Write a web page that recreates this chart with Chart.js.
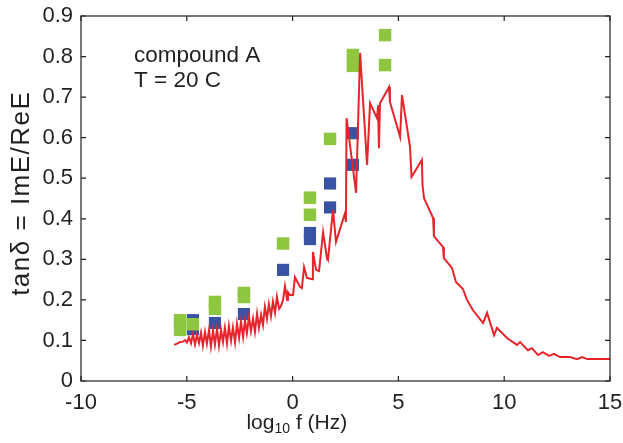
<!DOCTYPE html>
<html><head><meta charset="utf-8">
<script src="https://cdn.jsdelivr.net/npm/chart.js@4/dist/chart.umd.min.js"></script>
<style>html,body{margin:0;padding:0;background:#fff}#wrap{width:623px;height:443px}</style>
</head><body><div id="wrap"><canvas id="c" width="623" height="443"></canvas></div>
<script>
const xTicks = [-10, -5, 0, 5, 10, 15];
const yTicks = [0, 0.1, 0.2, 0.3, 0.4, 0.5, 0.6, 0.7, 0.8, 0.9];
const yTickLabels = ['0', '0.1', '0.2', '0.3', '0.4', '0.5', '0.6', '0.7', '0.8', '0.9'];
const xTitleMain = 'log';
const xTitleSub = '10';
const xTitleRest = ' f (Hz)';
const yTitle = 'tan\u03b4 = ImE/ReE';
const noteLines = ['compound A', 'T = 20 C'];

// red curve
const lineX = [-5.60,-5.46,-5.32,-5.18,-5.09,-4.99,-4.90,-4.80,-4.71,-4.61,-4.52,-4.42,-4.33,-4.24,-4.14,-4.05,-3.95,-3.86,-3.76,-3.67,-3.57,-3.48,-3.38,-3.29,-3.20,-3.10,-3.01,-2.91,-2.82,-2.72,-2.63,-2.53,-2.44,-2.34,-2.25,-2.16,-2.06,-1.97,-1.87,-1.78,-1.68,-1.59,-1.49,-1.40,-1.31,-1.21,-1.12,-1.02,-0.93,-0.83,-0.74,-0.64,-0.55,-0.45,-0.36,-0.26,-0.22,-0.12,0.02,0.11,0.35,0.44,0.54,0.68,0.92,0.96,1.11,1.25,1.44,1.63,1.67,1.91,2.05,2.48,2.52,2.55,3.00,3.19,3.52,3.66,3.99,4.04,4.08,4.13,4.56,4.60,5.08,5.17,5.55,5.62,6.11,6.14,6.21,6.64,6.68,7.11,7.15,7.53,7.72,8.05,8.24,8.52,9.00,9.19,9.52,9.66,10.13,10.61,10.75,11.12,11.31,11.60,11.83,12.12,12.35,12.64,13.11,13.44,13.68,13.92,15.00];
const lineY = [0.089,0.092,0.096,0.097,0.101,0.095,0.108,0.093,0.115,0.090,0.114,0.094,0.119,0.087,0.121,0.092,0.126,0.085,0.124,0.090,0.129,0.087,0.125,0.096,0.131,0.092,0.136,0.099,0.132,0.095,0.141,0.106,0.146,0.108,0.149,0.118,0.158,0.123,0.154,0.121,0.166,0.131,0.163,0.138,0.183,0.153,0.190,0.160,0.196,0.168,0.208,0.178,0.185,0.200,0.234,0.200,0.219,0.212,0.212,0.256,0.232,0.229,0.281,0.254,0.251,0.318,0.274,0.271,0.367,0.301,0.298,0.422,0.343,0.414,0.392,0.648,0.464,0.809,0.533,0.685,0.648,0.680,0.574,0.685,0.725,0.688,0.602,0.705,0.577,0.503,0.545,0.483,0.451,0.402,0.357,0.330,0.303,0.279,0.244,0.227,0.200,0.175,0.143,0.168,0.113,0.131,0.106,0.089,0.096,0.076,0.081,0.064,0.071,0.062,0.067,0.059,0.059,0.054,0.059,0.054,0.054];

// blue squares
const blueX = [-4.71,-4.71,-3.67,-2.30,-0.45,0.82,0.82,1.77,1.77,2.85,2.85];
const blueY = [0.150,0.128,0.143,0.165,0.274,0.365,0.350,0.487,0.428,0.611,0.533];

// green squares
const greenX = [-5.32,-5.32,-4.71,-3.67,-3.67,-2.30,-2.30,-0.45,0.82,0.82,1.77,2.85,2.85,4.37,4.37];
const greenY = [0.150,0.126,0.140,0.195,0.178,0.217,0.207,0.339,0.452,0.410,0.597,0.804,0.777,0.853,0.779];

const pts = (xs, ys) => xs.map((x, i) => ({x: x, y: ys[i]}));
const INK = '#231f20';
const FONT = 'Liberation Sans, Arial, sans-serif';

const framePlugin = {
  id: 'frame',
  afterDraw(chart) {
    const {ctx, chartArea: {left, right, top, bottom}, scales: {x, y}} = chart;
    ctx.save();
    ctx.strokeStyle = INK;
    ctx.lineWidth = 1.2;
    ctx.beginPath();
    xTicks.forEach(v => {
      const px = x.getPixelForValue(v);
      ctx.moveTo(px, bottom); ctx.lineTo(px, bottom - 5);
      ctx.moveTo(px, top); ctx.lineTo(px, top + 5);
    });
    yTicks.forEach(v => {
      const py = y.getPixelForValue(v);
      ctx.moveTo(left, py); ctx.lineTo(left + 5, py);
      ctx.moveTo(right, py); ctx.lineTo(right - 5, py);
    });
    ctx.stroke();
    ctx.strokeRect(left, top, right - left, bottom - top);

    ctx.fillStyle = INK;
    // y title (rotated)
    ctx.save();
    ctx.translate(22, y.getPixelForValue(0.463));
    ctx.rotate(-Math.PI / 2);
    ctx.font = '26px ' + FONT;
    if ('letterSpacing' in ctx) ctx.letterSpacing = '1.5px';
    ctx.textAlign = 'center';
    ctx.textBaseline = 'middle';
    ctx.fillText(yTitle, 0, 0);
    ctx.restore();

    // x title with subscript
    ctx.textBaseline = 'alphabetic';
    ctx.font = '21px ' + FONT;
    const w1 = ctx.measureText(xTitleMain).width;
    const w3 = ctx.measureText(xTitleRest).width;
    ctx.font = '14px ' + FONT;
    const w2 = ctx.measureText(xTitleSub).width;
    const total = w1 + w2 + w3;
    const cx = x.getPixelForValue(0.2);
    let sx = cx - total / 2;
    const base = 429;
    ctx.font = '21px ' + FONT;
    ctx.textAlign = 'left';
    ctx.fillText(xTitleMain, sx, base);
    ctx.font = '14px ' + FONT;
    ctx.fillText(xTitleSub, sx + w1, base + 4);
    ctx.font = '21px ' + FONT;
    ctx.fillText(xTitleRest, sx + w1 + w2, base);

    // annotation
    ctx.font = '22.5px ' + FONT;
    ctx.fillText(noteLines[0], 134, 62);
    ctx.fillText(noteLines[1], 134, 87);
    ctx.restore();
  }
};

new Chart(document.getElementById('c'), {
  type: 'scatter',
  data: {
    datasets: [
      {
        data: pts(lineX, lineY), showLine: true, borderColor: '#e8242b', borderWidth: 2,
        pointRadius: 0, tension: 0, fill: false
      },
      {
        data: pts(greenX, greenY), pointStyle: 'rect', pointRadius: 8.8, pointBorderWidth: 0,
        backgroundColor: '#8dc63f', borderColor: '#8dc63f', showLine: false
      },
      {
        data: pts(blueX, blueY), pointStyle: 'rect', pointRadius: 8.6, pointBorderWidth: 0,
        backgroundColor: '#3953a4', borderColor: '#3953a4', showLine: false
      }
    ]
  },
  options: {
    responsive: false,
    animation: false,
    devicePixelRatio: 1,
    layout: {padding: {top: 16, right: 13, left: 0, bottom: 0}},
    plugins: {legend: {display: false}, tooltip: {enabled: false}},
    scales: {
      x: {
        type: 'linear', min: -10, max: 15,
        afterBuildTicks: s => { s.ticks = xTicks.map(v => ({value: v})); },
        afterFit: s => { s.height = 62; s.paddingLeft = 0; s.paddingRight = 0; },
        grid: {display: false, drawTicks: false}, border: {display: false},
        ticks: {font: {family: FONT, size: 22}, color: INK, padding: 9, maxRotation: 0, callback: v => String(v)}
      },
      y: {
        type: 'linear', min: 0, max: 0.9,
        afterBuildTicks: s => { s.ticks = yTicks.map(v => ({value: v})); },
        afterFit: s => { s.width = 81; s.paddingTop = 0; s.paddingBottom = 0; },
        grid: {display: false, drawTicks: false}, border: {display: false},
        ticks: {font: {family: FONT, size: 22}, color: INK, padding: 8, callback: (v, i) => yTickLabels[i]}
      }
    }
  },
  plugins: [framePlugin]
});
</script>
</body></html>
